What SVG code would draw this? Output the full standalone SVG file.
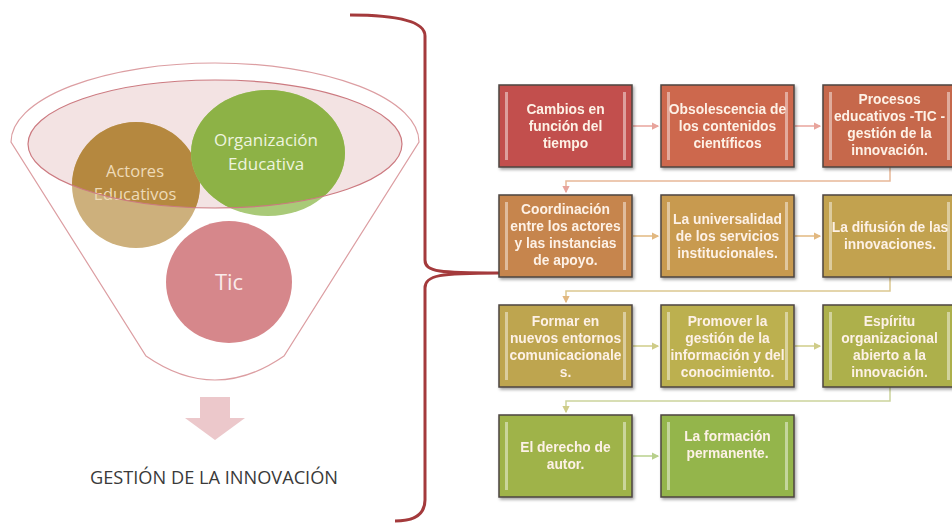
<svg xmlns="http://www.w3.org/2000/svg" width="952" height="524" viewBox="0 0 952 524">
<style>
.box{stroke:#4d4540;stroke-width:1.5}
.bar{fill:#ffffff;opacity:0.45}
.bt{font-family:"Liberation Sans",Arial,sans-serif;font-weight:bold;font-size:13.8px;fill:#fdf1e6;text-anchor:middle}
.ct{font-family:"Open Sans",sans-serif;text-anchor:middle}
.con{fill:none;stroke-width:1.5}
</style>
<defs>
<filter id="sh" x="-10%" y="-10%" width="125%" height="130%">
<feDropShadow dx="1.5" dy="2" stdDeviation="1.5" flood-color="#000" flood-opacity="0.35"/>
</filter>
<clipPath id="inell"><ellipse cx="215" cy="144" rx="187" ry="64"/></clipPath>
<marker id="ar1" viewBox="0 0 6 6" refX="5" refY="3" markerWidth="5" markerHeight="5" orient="auto"><path d="M0,0 L6,3 L0,6 Z" fill="#e8a49c"/></marker>
<marker id="ar2" viewBox="0 0 6 6" refX="5" refY="3" markerWidth="5" markerHeight="5" orient="auto"><path d="M0,0 L6,3 L0,6 Z" fill="#e2b880"/></marker>
<marker id="ar3" viewBox="0 0 6 6" refX="5" refY="3" markerWidth="5" markerHeight="5" orient="auto"><path d="M0,0 L6,3 L0,6 Z" fill="#cfcc88"/></marker>
<marker id="ar4" viewBox="0 0 6 6" refX="5" refY="3" markerWidth="5" markerHeight="5" orient="auto"><path d="M0,0 L6,3 L0,6 Z" fill="#b8d08c"/></marker>
</defs>
<rect width="952" height="524" fill="#ffffff"/>

<g id="funnel">
<path d="M11 142 A204 79 0 0 1 419 142 L284 356 Q215 404 146 356 Z" fill="none" stroke="#dc9ea2" stroke-width="1.2"/>
<ellipse cx="215" cy="144" rx="187" ry="64" fill="#f0dcdc" opacity="0.8"/>
</g>

<g id="actores">
<ellipse cx="136" cy="185" rx="64" ry="63" fill="#cdb07c"/>
<ellipse cx="136" cy="185" rx="64" ry="63" fill="#b5883f" clip-path="url(#inell)"/>
<text class="ct" x="135" y="177" font-size="16.5" fill="#eedbb8">Actores</text>
<text class="ct" x="135" y="200" font-size="16.5" fill="#eedbb8">Educativos</text>
</g>

<g id="organizacion">
<ellipse cx="268" cy="153" rx="77" ry="63" fill="#a9ca78"/>
<ellipse cx="268" cy="153" rx="77" ry="63" fill="#8db246" clip-path="url(#inell)"/>
<text class="ct" x="266" y="146" font-size="17" fill="#eef4df">Organización</text>
<text class="ct" x="266" y="170" font-size="17" fill="#eef4df">Educativa</text>
</g>

<g id="ellipse-outline">
<ellipse cx="215" cy="144" rx="187" ry="64" fill="none" stroke="#cc7a80" stroke-width="1.2"/>
</g>

<g id="tic">
<ellipse cx="229" cy="282" rx="63" ry="61" fill="#d6878b"/>
<text class="ct" x="229" y="290" font-size="22" fill="#faeaea">Tic</text>
</g>

<g id="down-arrow">
<path d="M200 397 L230 397 L230 418 L245 418 L215 440 L185 418 L200 418 Z" fill="#ecc8cb"/>
</g>

<g id="title">
<text class="ct" x="214" y="484" font-size="18.2" fill="#3a3a3a">GESTIÓN DE LA INNOVACIÓN</text>
</g>

<g id="brace">
<path d="M350 15 Q425 15 425 36 L425 260 C425 272 440 273 499 273 C440 273 425 275 425 288 L425 500 Q425 521 395 521" fill="none" stroke="#a43a3c" stroke-width="3"/>
</g>

<g id="connectors">
<line class="con" x1="633" y1="126" x2="658" y2="126" stroke="#e8a49c" marker-end="url(#ar1)"/>
<line class="con" x1="795" y1="126" x2="820" y2="126" stroke="#e8a49c" marker-end="url(#ar1)"/>
<path class="con" d="M890 167 L890 181 L566 181 L566 192" stroke="#e8b898" marker-end="url(#ar1)"/>
<line class="con" x1="633" y1="236" x2="658" y2="236" stroke="#e2b880" marker-end="url(#ar2)"/>
<line class="con" x1="795" y1="236" x2="820" y2="236" stroke="#e2b880" marker-end="url(#ar2)"/>
<path class="con" d="M890 277 L890 291 L566 291 L566 302" stroke="#dcc890" marker-end="url(#ar2)"/>
<line class="con" x1="633" y1="346" x2="658" y2="346" stroke="#cfcc88" marker-end="url(#ar3)"/>
<line class="con" x1="795" y1="346" x2="820" y2="346" stroke="#cfcc88" marker-end="url(#ar3)"/>
<path class="con" d="M890 387 L890 401 L566 401 L566 412" stroke="#ccd49c" marker-end="url(#ar3)"/>
<line class="con" x1="633" y1="456" x2="658" y2="456" stroke="#b8d08c" marker-end="url(#ar4)"/>
</g>

<g id="n1" filter="url(#sh)">
<rect class="box" x="499" y="85" width="133" height="82" fill="#c2504d"/>
<rect class="bar" x="505" y="92" width="3" height="68"/><rect class="bar" x="623" y="92" width="3" height="68"/>
<text class="bt" x="565.5" y="114">Cambios en</text><text class="bt" x="565.5" y="131">función del</text><text class="bt" x="565.5" y="148">tiempo</text>
</g>
<g id="n2" filter="url(#sh)">
<rect class="box" x="661" y="85" width="133" height="82" fill="#cd674d"/>
<rect class="bar" x="667" y="92" width="3" height="68"/><rect class="bar" x="785" y="92" width="3" height="68"/>
<text class="bt" x="727.5" y="114">Obsolescencia de</text><text class="bt" x="727.5" y="131">los contenidos</text><text class="bt" x="727.5" y="148">científicos</text>
</g>
<g id="n3" filter="url(#sh)">
<rect class="box" x="823" y="85" width="133" height="82" fill="#c6684b"/>
<rect class="bar" x="829" y="92" width="3" height="68"/><rect class="bar" x="947" y="92" width="3" height="68"/>
<text class="bt" x="889.5" y="104">Procesos</text><text class="bt" x="889.5" y="121">educativos  -TIC -</text><text class="bt" x="889.5" y="138">gestión de la</text><text class="bt" x="889.5" y="155">innovación.</text>
</g>

<g id="n4" filter="url(#sh)">
<rect class="box" x="499" y="195" width="133" height="82" fill="#c6854d"/>
<rect class="bar" x="505" y="202" width="3" height="68"/><rect class="bar" x="623" y="202" width="3" height="68"/>
<text class="bt" x="565.5" y="214">Coordinación</text><text class="bt" x="565.5" y="231">entre los actores</text><text class="bt" x="565.5" y="248">y las instancias</text><text class="bt" x="565.5" y="265">de apoyo.</text>
</g>
<g id="n5" filter="url(#sh)">
<rect class="box" x="661" y="195" width="133" height="82" fill="#c89a50"/>
<rect class="bar" x="667" y="202" width="3" height="68"/><rect class="bar" x="785" y="202" width="3" height="68"/>
<text class="bt" x="727.5" y="224">La universalidad</text><text class="bt" x="727.5" y="241">de los servicios</text><text class="bt" x="727.5" y="258">institucionales.</text>
</g>
<g id="n6" filter="url(#sh)">
<rect class="box" x="823" y="195" width="133" height="82" fill="#c2a24f"/>
<rect class="bar" x="829" y="202" width="3" height="68"/><rect class="bar" x="947" y="202" width="3" height="68"/>
<text class="bt" x="890" y="232">La difusión de las</text><text class="bt" x="890" y="249">innovaciones.</text>
</g>

<g id="n7" filter="url(#sh)">
<rect class="box" x="499" y="305" width="133" height="82" fill="#bea54f"/>
<rect class="bar" x="505" y="312" width="3" height="68"/><rect class="bar" x="623" y="312" width="3" height="68"/>
<text class="bt" x="565.5" y="326">Formar en</text><text class="bt" x="565.5" y="343">nuevos entornos</text><text class="bt" x="565.5" y="360">comunicacionale</text><text class="bt" x="565.5" y="377">s.</text>
</g>
<g id="n8" filter="url(#sh)">
<rect class="box" x="661" y="305" width="133" height="82" fill="#bcb050"/>
<rect class="bar" x="667" y="312" width="3" height="68"/><rect class="bar" x="785" y="312" width="3" height="68"/>
<text class="bt" x="727.5" y="326">Promover la</text><text class="bt" x="727.5" y="343">gestión de la</text><text class="bt" x="727.5" y="360">información y del</text><text class="bt" x="727.5" y="377">conocimiento.</text>
</g>
<g id="n9" filter="url(#sh)">
<rect class="box" x="823" y="305" width="133" height="82" fill="#adb04c"/>
<rect class="bar" x="829" y="312" width="3" height="68"/><rect class="bar" x="947" y="312" width="3" height="68"/>
<text class="bt" x="889.5" y="326">Espíritu</text><text class="bt" x="889.5" y="343">organizacional</text><text class="bt" x="889.5" y="360">abierto a la</text><text class="bt" x="889.5" y="377">innovación.</text>
</g>

<g id="n10" filter="url(#sh)">
<rect class="box" x="499" y="415" width="133" height="82" fill="#9fb34a"/>
<rect class="bar" x="505" y="422" width="3" height="68"/><rect class="bar" x="623" y="422" width="3" height="68"/>
<text class="bt" x="565.5" y="452">El derecho de</text><text class="bt" x="565.5" y="469">autor.</text>
</g>
<g id="n11" filter="url(#sh)">
<rect class="box" x="661" y="415" width="133" height="82" fill="#94b54b"/>
<rect class="bar" x="667" y="422" width="3" height="68"/><rect class="bar" x="785" y="422" width="3" height="68"/>
<text class="bt" x="727.5" y="441">La formación</text><text class="bt" x="727.5" y="458">permanente.</text>
</g>
</svg>
